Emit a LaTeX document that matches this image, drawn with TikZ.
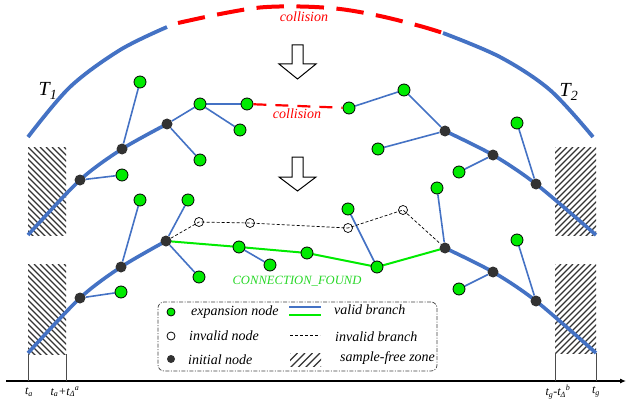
\documentclass[tikz,border=0pt]{standalone}
\usepackage{fontspec}
\setmainfont{Liberation Serif}
\usetikzlibrary{arrows.meta}
\pgfdeclarelayer{background}
\pgfsetlayers{background,main}

\definecolor{treeblue}{RGB}{68,114,196}
\definecolor{nodegreen}{RGB}{0,235,0}
\definecolor{pathgreen}{RGB}{0,235,0}
\definecolor{textgreen}{RGB}{40,215,40}
\definecolor{hitred}{RGB}{255,0,0}
\definecolor{darknode}{RGB}{50,50,50}

% hatched sample-free zone: #1,#2 = top-left, #3,#4 = bottom-right, #5 = +1 for "\" or -1 for "/", #6 = step
\newcommand{\hatchzone}[6]{%
  \begin{scope}
    \clip (#1,#2) rectangle (#3,#4);
    \foreach \k in {-120,-114,...,160} {
      \draw[hatchline] ({#1+\k*#6/6},#2) -- ++({#5*110},110);
    }
  \end{scope}}

\begin{document}
\begin{tikzpicture}[x=1pt,y=-1pt,
  trunk/.style={draw=treeblue,line width=3.6pt},
  arcline/.style={draw=treeblue,line width=3.8pt},
  archit/.style={draw=hitred,line width=4pt,dash pattern=on 27.5pt off 12.5pt},
  branch/.style={draw=treeblue,line width=1.6pt},
  foundpath/.style={draw=pathgreen,line width=2pt},
  invalidedge/.style={draw=black,line width=0.7pt,dash pattern=on 3pt off 2pt},
  hitedge/.style={draw=hitred,line width=2.2pt,dash pattern=on 13pt off 9pt},
  expnode/.style={circle,draw=black,line width=0.8pt,fill=nodegreen,inner sep=0pt,minimum size=12pt},
  initnode/.style={circle,fill=darknode,inner sep=0pt,minimum size=11pt},
  badnode/.style={circle,draw=black,line width=0.7pt,fill=white,inner sep=0pt,minimum size=9pt},
  hatchline/.style={draw=black!80,line width=1.1pt},
  lbl/.style={inner sep=0pt,font=\fontsize{14}{16}\selectfont\itshape},
  axlbl/.style={inner sep=0pt,font=\fontsize{12}{14}\selectfont\itshape},
  tick/.style={draw=black!70,line width=0.6pt},
  blockarrow/.style={draw=black,line width=1pt,fill=white,line join=miter},
  legendbox/.style={draw=black!75,line width=0.7pt,rounded corners=6pt,dash pattern=on 4pt off 1.5pt on 1pt off 1.5pt},
]
\useasboundingbox (0,0) rectangle (626,401);

% ---------- sample-free zones ----------
\begin{pgfonlayer}{background}
\hatchzone{28}{147}{66}{235}{1}{6}
\hatchzone{28}{264}{66}{354}{1}{6}
\hatchzone{555}{147}{596}{235}{-1}{6}
\hatchzone{555}{264}{596}{353}{-1}{6}
\end{pgfonlayer}

% ---------- global trees (top arc) ----------
\draw[arcline] plot[smooth,tension=0.55] coordinates {(28,137) (70,87) (120,50) (167,27)};
\draw[archit] plot[smooth,tension=0.55] coordinates {(178,23) (220,14) (260,7.5) (300,6.5) (340,9) (380,16) (420,26) (443,33)};
\draw[arcline] plot[smooth,tension=0.55] coordinates {(443,33) (500,57) (550,90) (593,137)};
\node[font=\fontsize{14}{16}\selectfont\itshape,text=hitred,inner sep=0pt] (hitA) at (304,17) {collision};
\node[inner sep=0pt,font=\fontsize{20}{24}\selectfont\itshape] (Tone) at (48,91) {T\textsubscript{1}};
\node[inner sep=0pt,font=\fontsize{20}{24}\selectfont\itshape] (Ttwo) at (569,92) {T\textsubscript{2}};

% ---------- hollow arrows ----------
\draw[blockarrow] (292,45) -- (303,45) -- (303,64) -- (316,64) -- (297.5,79) -- (279,64) -- (292,64) -- cycle;
\draw[blockarrow] (292,157) -- (303,157) -- (303,177) -- (316,177) -- (297.5,191) -- (279,177) -- (292,177) -- cycle;

% ---------- middle band: collision between the trees ----------
\coordinate (uL0) at (28,235);
\coordinate (uR4) at (596,235);
\node[initnode] (uB1) at (80,180) {};
\node[initnode] (uB2) at (122,149) {};
\node[initnode] (uB3) at (167,124) {};
\node[expnode] (uG1) at (122,175) {};
\node[expnode] (uG2) at (140,82) {};
\node[expnode] (uG3) at (200,104) {};
\node[expnode] (uG4) at (200,160) {};
\node[expnode] (uG5) at (247,104) {};
\node[expnode] (uG6) at (240,130) {};
\node[expnode] (uG7) at (349,108) {};
\node[expnode] (uG8) at (404,90) {};
\node[initnode] (uR1) at (445,131) {};
\node[initnode] (uR2) at (493,155) {};
\node[initnode] (uR3) at (536,184) {};
\node[expnode] (uG9) at (378,149) {};
\node[expnode] (uG10) at (459,172) {};
\node[expnode] (uG11) at (517,123) {};
\node[font=\fontsize{14}{16}\selectfont\itshape,text=hitred,inner sep=0pt] (hitB) at (297,114) {collision};

\begin{pgfonlayer}{background}
\draw[trunk] plot[smooth,tension=0.5] coordinates {(uL0) (uB1.center) (uB2.center) (uB3.center)};
\draw[trunk] plot[smooth,tension=0.5] coordinates {(uR1.center) (uR2.center) (uR3.center) (uR4)};
\draw[branch] (uB1) -- (uG1);
\draw[branch] (uB2) -- (uG2);
\draw[branch] (uB3) -- (uG3);
\draw[branch] (uB3) -- (uG4);
\draw[branch] (uG3) -- (uG5);
\draw[branch] (uG3) -- (uG6);
\draw[branch] (uG7) -- (uG8);
\draw[branch] (uG8) -- (uR1);
\draw[branch] (uR1) -- (uG9);
\draw[branch] (uR2) -- (uG10);
\draw[branch] (uR3) -- (uG11);
\end{pgfonlayer}
\draw[hitedge] (uG5) -- (uG7);

% ---------- lower band: connection found ----------
\coordinate (lL0) at (28,353);
\coordinate (lR4) at (596,353);
\node[initnode] (lB1) at (80,298) {};
\node[initnode] (lB2) at (121,267) {};
\node[initnode] (lB3) at (166,241) {};
\node[expnode] (lG1) at (121,292) {};
\node[expnode] (lG2) at (140,200) {};
\node[expnode] (lG3) at (188,200) {};
\node[expnode] (lG4) at (199,277) {};
\node[badnode] (lX1) at (199,222) {};
\node[badnode] (lX2) at (250,223) {};
\node[badnode] (lX3) at (348,228) {};
\node[badnode] (lX4) at (403,210) {};
\node[expnode] (lP1) at (239,247) {};
\node[expnode] (lP2) at (307,253) {};
\node[expnode] (lP3) at (377,267) {};
\node[expnode] (lG5) at (270,265) {};
\node[expnode] (lG6) at (348,209) {};
\node[initnode] (lR1) at (445,248) {};
\node[initnode] (lR2) at (493,272) {};
\node[initnode] (lR3) at (536,301) {};
\node[expnode] (lG7) at (437,188) {};
\node[expnode] (lG8) at (459,289) {};
\node[expnode] (lG9) at (517,240) {};
\node[font=\fontsize{12.6}{14}\selectfont\itshape,text=textgreen,inner sep=0pt] (found) at (297,281) {CONNECTION\_FOUND};

\begin{pgfonlayer}{background}
\draw[trunk] plot[smooth,tension=0.5] coordinates {(lL0) (lB1.center) (lB2.center) (lB3.center)};
\draw[trunk] plot[smooth,tension=0.5] coordinates {(lR1.center) (lR2.center) (lR3.center) (lR4)};
\draw[branch] (lB1) -- (lG1);
\draw[branch] (lB2) -- (lG2);
\draw[branch] (lB3) -- (lG3);
\draw[branch] (lB3) -- (lG4);
\draw[branch] (lP1) -- (lG5);
\draw[branch] (lP3) -- (lG6);
\draw[branch] (lR1) -- (lG7);
\draw[branch] (lR2) -- (lG8);
\draw[branch] (lR3) -- (lG9);
\draw[foundpath] (lB3.center) -- (lP1.center) -- (lP2.center) -- (lP3.center) -- (lR1.center);
\end{pgfonlayer}
\draw[invalidedge] (lB3) -- (lX1.center) -- (lX2.center) -- (lX3.center) -- (lX4.center) -- (lR1);

% ---------- time axis ----------
\coordinate (axL) at (6,381);
\coordinate (axR) at (626,381);
\draw[line width=1.1pt,-{Latex[length=6pt,width=5pt]}] (axL) -- (axR);
\draw[tick] (28,354) -- (28,381);
\draw[tick] (66,354) -- (66,381);
\draw[tick] (555,353) -- (555,381);
\draw[tick] (596,353) -- (596,381);
\node[axlbl] (ta) at (29,392) {t\textsubscript{a}};
\node[axlbl] (tad) at (65,392) {t\textsubscript{a}+t\textsubscript{Δ}\textsuperscript{a}};
\node[axlbl] (tgd) at (558,392) {t\textsubscript{g}-t\textsubscript{Δ}\textsuperscript{b}};
\node[axlbl] (tg) at (596,392) {t\textsubscript{g}};

% ---------- legend ----------
\node[legendbox,minimum width=279pt,minimum height=69pt,inner sep=0pt] (legend) at (297.5,336.5) {};
\node[expnode,minimum size=8pt] (kG) at (171,312) {};
\node[badnode,minimum size=8pt,line width=0.8pt] (kX) at (171,336) {};
\node[initnode,minimum size=8pt] (kB) at (171,359) {};
\node[lbl,anchor=west] (kGt) at (191,312) {expansion node};
\node[lbl,anchor=west] (kXt) at (189,336) {invalid node};
\node[lbl,anchor=west] (kBt) at (188,360) {initial node};
\coordinate (kv1) at (289,307); \coordinate (kv2) at (321,307);
\coordinate (kf1) at (289,315); \coordinate (kf2) at (321,315);
\coordinate (ki1) at (290,335); \coordinate (ki2) at (320,335);
\draw[branch] (kv1) -- (kv2);
\draw[foundpath] (kf1) -- (kf2);
\draw[invalidedge] (ki1) -- (ki2);
\hatchzone{290}{353}{321}{366}{-1}{7.5}
\node[lbl,anchor=west] (kvt) at (334,310) {valid branch};
\node[lbl,anchor=west] (kit) at (335,337) {invalid branch};
\node[lbl,anchor=west] (kst) at (340,358) {sample-free zone};
\end{tikzpicture}
\end{document}
